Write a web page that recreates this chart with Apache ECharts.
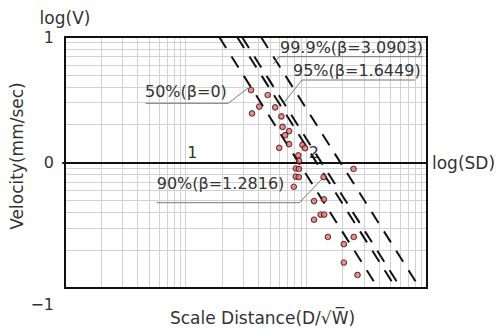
<!DOCTYPE html>
<html>
<head>
<meta charset="utf-8">
<script src="https://cdn.jsdelivr.net/npm/echarts@6/dist/echarts.min.js"></script>
<style>html,body{margin:0;padding:0;background:#fff}#c{width:497px;height:336px}</style>
</head>
<body>
<div id="c"></div>
<script>
// scaled distance (D/sqrt(W)) and peak particle velocity (mm/sec)
const pointSD = [34.8, 47.8, 40.7, 35.5, 55.2, 62.1, 63.5, 72.0, 66.7, 72.0, 59.6, 92.9, 97.6, 85.8, 87.1,
  81.8, 86.6, 81.8, 86.6, 78.7, 246, 139, 115.8, 140, 131.5, 140.5, 115.8, 151, 247, 204.6, 204.6, 265.5];
const pointV = [3.78, 3.45, 2.79, 2.46, 2.75, 2.33, 1.92, 1.78, 1.65, 1.40, 1.31, 1.38, 1.30, 1.14, 1.03,
  0.896, 0.888, 0.773, 0.766, 0.641, 0.888, 0.766, 0.493, 0.509, 0.385, 0.385, 0.350, 0.255, 0.255, 0.2234, 0.1596, 0.127];
// regression lines (end points [SD, V])
const line50 = [[18.97, 10], [392.6, 0.1]];
const line90 = [[26.7, 10], [552, 0.1]];
const line95 = [[29.3, 10], [607, 0.1]];
const line999 = [[42.1, 10], [871, 0.1]];
const lineNames = ['50%(β=0)', '90%(β=1.2816)', '95%(β=1.6449)', '99.9%(β=3.0903)'];

const FONT = 'DejaVu Sans';
const TXT = '#333';
const chart = echarts.init(document.getElementById('c'), null, {renderer: 'svg'});
const points = pointSD.map((s, i) => [s, pointV[i]]);
const dashed = {color: '#111', width: 2, type: [13, 10]};
const lineSeries = [line50, line90, line95, line999].map((d, i) => ({
  type: 'line', name: lineNames[i], data: d, symbol: 'none', clip: true,
  xAxisIndex: 0, yAxisIndex: 0, lineStyle: dashed, z: 3, silent: true
}));
const gridLine = {show: true, lineStyle: {color: '#d2d2d2', width: 1}};
chart.setOption({
  animation: false,
  textStyle: {fontFamily: FONT},
  grid: [
    {left: 63, right: 70, top: 37, bottom: 48, show: true, borderColor: '#111', borderWidth: 2, z: 4},
    {left: 63, right: 70, top: 37, height: 125.5}
  ],
  xAxis: [
    {type: 'log', logBase: 10, min: 1, max: 1000, gridIndex: 0,
     axisLine: {show: false}, axisTick: {show: false}, axisLabel: {show: false},
     splitLine: gridLine, minorTick: {show: false, splitNumber: 9}, minorSplitLine: gridLine,
     name: 'Scale Distance(D/√W̅)', nameLocation: 'middle', nameGap: 21,
     nameTextStyle: {fontSize: 17, color: TXT, fontFamily: FONT, padding: [0, 0, 0, 33]}},
    {type: 'log', logBase: 10, min: 1, max: 1000, gridIndex: 1,
     axisLine: {show: true, onZero: false, lineStyle: {color: '#111', width: 2}},
     axisTick: {show: false}, splitLine: {show: false},
     axisLabel: {inside: true, margin: 2, fontSize: 16, color: TXT, fontFamily: FONT, align: 'left',
       padding: [0, 0, 0, 3], showMinLabel: false, showMaxLabel: false,
       formatter: v => String(Math.round(Math.log10(v)))},
     name: 'log(SD)', nameLocation: 'end', nameGap: 5,
     nameTextStyle: {fontSize: 17, color: TXT, fontFamily: FONT, verticalAlign: 'middle'}}
  ],
  yAxis: [
    {type: 'log', logBase: 10, min: 0.1, max: 10, gridIndex: 0,
     axisLine: {show: false}, axisTick: {show: false},
     axisLabel: {margin: 11, fontSize: 16, color: TXT, fontFamily: FONT,
       formatter: v => { const l = Math.round(Math.log10(v)); return l < 0 ? '{low|−' + Math.abs(l) + '}' : String(l); },
       rich: {low: {fontSize: 16, color: TXT, fontFamily: FONT, padding: [32, 0, 0, 0]}}},
     splitLine: gridLine, minorTick: {show: false, splitNumber: 9}, minorSplitLine: gridLine,
     name: 'log(V)', nameLocation: 'end', nameGap: 11,
     nameTextStyle: {fontSize: 17, color: TXT, fontFamily: FONT, align: 'center'}},
    {type: 'log', logBase: 10, min: 0.1, max: 10, gridIndex: 0, position: 'left',
     axisLine: {show: false}, axisTick: {show: false}, axisLabel: {show: false}, splitLine: {show: false},
     name: 'Velocity(mm/sec)', nameLocation: 'middle', nameGap: 40,
     nameTextStyle: {fontSize: 17, color: TXT, fontFamily: FONT, padding: [0, 0, 0, 13]}},
    {type: 'value', min: 0, max: 1, gridIndex: 1, show: false}
  ],
  series: [
    {type: 'scatter', data: points, xAxisIndex: 0, yAxisIndex: 0, symbol: 'circle', symbolSize: 5.5, z: 5,
     itemStyle: {color: '#ec7070', borderColor: '#3a1010', borderWidth: 1.1}},
    ...lineSeries
  ],
  graphic: [
    {type: 'text', left: 145, top: 83, z: 10, style: {text: lineNames[0], font: '16px ' + FONT, fill: TXT}},
    {type: 'polyline', z: 10, shape: {points: [[145.7, 103.3], [228.3, 103.3], [248, 88]]}, style: {stroke: '#777', lineWidth: 1, fill: null}},
    {type: 'text', left: 280, top: 39, z: 10, style: {text: lineNames[3], font: '16px ' + FONT, fill: TXT}},
    {type: 'polyline', z: 10, shape: {points: [[423, 56.7], [279, 56.7], [273.3, 64]]}, style: {stroke: '#777', lineWidth: 1, fill: null}},
    {type: 'text', left: 293, top: 62, z: 10, style: {text: lineNames[2], font: '16px ' + FONT, fill: TXT}},
    {type: 'polyline', z: 10, shape: {points: [[415, 80], [302, 80], [283.5, 103]]}, style: {stroke: '#777', lineWidth: 1, fill: null}},
    {type: 'text', left: 156.7, top: 175, z: 10, style: {text: lineNames[1], font: '16px ' + FONT, fill: TXT}},
    {type: 'polyline', z: 10, shape: {points: [[156.7, 202.7], [299.3, 202.7], [322.7, 178.3]]}, style: {stroke: '#777', lineWidth: 1, fill: null}}
  ]
});
</script>
</body>
</html>
